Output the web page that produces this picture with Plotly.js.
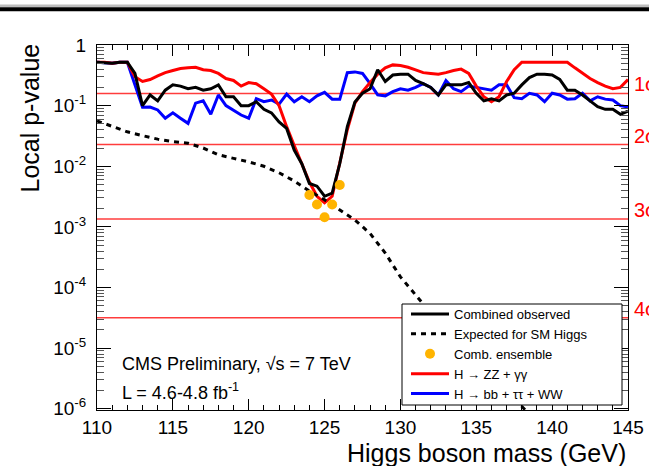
<!DOCTYPE html>
<html><head><meta charset="utf-8">
<script src="https://cdn.plot.ly/plotly-3.0.1.min.js"></script>
<style>html,body{margin:0;padding:0;background:#fff}#chart{width:649px;height:466px}</style>
</head><body><div id="chart"></div>
<script>
const mass = [110,110.5,111,111.5,112,112.5,113,113.5,114,114.5,115,115.5,116,116.5,117,117.5,118,118.5,119,119.5,120,120.5,121,121.5,122,122.5,123,123.5,124,124.5,125,125.5,126,126.5,127,127.5,128,128.5,129,129.5,130,130.5,131,131.5,132,132.5,133,133.5,134,134.5,135,135.5,136,136.5,137,137.5,138,138.5,139,139.5,140,140.5,141,141.5,142,142.5,143,143.5,144,144.5,145];
const observed = [0.52,0.51,0.50,0.52,0.52,0.34,0.10,0.15,0.12,0.18,0.22,0.21,0.19,0.20,0.18,0.19,0.22,0.14,0.14,0.10,0.10,0.116,0.087,0.076,0.054,0.042,0.0185,0.011,0.0052,0.0047,0.0032,0.0036,0.011,0.045,0.115,0.16,0.19,0.39,0.25,0.32,0.33,0.33,0.26,0.23,0.20,0.15,0.22,0.22,0.22,0.24,0.16,0.12,0.13,0.12,0.15,0.16,0.22,0.29,0.33,0.33,0.32,0.27,0.18,0.18,0.15,0.12,0.096,0.087,0.087,0.072,0.081];
const zzgg = [0.52,0.52,0.50,0.52,0.52,0.30,0.25,0.27,0.31,0.35,0.38,0.41,0.42,0.43,0.39,0.38,0.34,0.28,0.26,0.21,0.24,0.23,0.19,0.155,0.10,0.045,0.022,0.011,0.0055,0.0032,0.0025,0.0032,0.011,0.04,0.11,0.17,0.24,0.33,0.42,0.47,0.46,0.43,0.39,0.35,0.34,0.33,0.35,0.38,0.40,0.34,0.21,0.14,0.116,0.14,0.25,0.39,0.52,0.52,0.52,0.52,0.52,0.52,0.52,0.42,0.34,0.28,0.24,0.21,0.19,0.20,0.27];
const bbttww = [0.52,0.51,0.50,0.52,0.52,0.22,0.094,0.095,0.085,0.062,0.076,0.062,0.051,0.11,0.12,0.072,0.15,0.10,0.085,0.07,0.062,0.13,0.116,0.124,0.106,0.155,0.116,0.14,0.116,0.145,0.166,0.128,0.128,0.35,0.36,0.34,0.23,0.15,0.145,0.17,0.19,0.18,0.20,0.23,0.20,0.15,0.26,0.19,0.17,0.21,0.20,0.19,0.18,0.22,0.22,0.135,0.13,0.16,0.15,0.116,0.16,0.15,0.128,0.13,0.16,0.12,0.14,0.128,0.124,0.10,0.095];
const expMass = [110,111,112,113,114,115,116,117,118,119,120,121,122,123,124,125,126,127,128,129,130,131,132,133,134,135,136,137,138,139];
const expected = [0.056,0.045,0.037,0.032,0.028,0.0255,0.024,0.02,0.0155,0.0135,0.0118,0.0100,0.0078,0.0057,0.0039,0.0028,0.0019,0.0013,0.00078,0.00037,0.00015,0.000075,0.000038,0.000022,0.000012,0.0000065,0.0000035,0.000002,0.0000011,0.0000006];
const ensMass = [124.0,124.5,125.0,125.5,126.0];
const ensemble = [0.00335,0.00234,0.00144,0.00234,0.0049];
const sigmaLabels = ['1σ','2σ','3σ','4σ'];
const sigmaP = [0.1587,0.02275,0.00135,0.0000317];
const sigmaSpan = [110,145];
const yTickVals = [1e-6,1e-5,1e-4,1e-3,1e-2,1e-1,1];
const yTickText = ['10<sup>-6</sup>','10<sup>-5</sup>','10<sup>-4</sup>','10<sup>-3</sup>','10<sup>-2</sup>','10<sup>-1</sup>','1'];
const xTickVals = [110,115,120,125,130,135,140,145];
const seriesNames = ['Combined observed','Expected for SM Higgs','Comb. ensemble','H → ZZ + γγ','H → bb + ττ + WW'];

const FONT = 'Liberation Sans, Arial, Helvetica, sans-serif';
// plot area pixels: left 97, right 628, top 45, bottom 410
const L = 97, R = 628, T = 45, B = 410;
const px = x => (x - L) / (R - L);
const py = y => (B - y) / (B - T);

const sigmaTraces = sigmaP.map(p => ({
  x: sigmaSpan, y: [p, p], mode: 'lines', showlegend: false, hoverinfo: 'skip',
  line: {color: 'rgb(255,60,60)', width: 1.5}
}));

const traces = [
  {x: mass, y: observed, name: seriesNames[0], mode: 'lines', line: {color: '#000', width: 3}, legendrank: 1},
  {x: expMass, y: expected, name: seriesNames[1], mode: 'lines', line: {color: '#000', width: 3, dash: '5px,5px'}, legendrank: 2},
  {x: ensMass, y: ensemble, name: seriesNames[2], mode: 'markers', marker: {color: '#ffb400', size: 10}, legendrank: 3},
  {x: mass, y: zzgg, name: seriesNames[3], mode: 'lines', line: {color: '#ff0000', width: 3}, legendrank: 4},
  {x: mass, y: bbttww, name: seriesNames[4], mode: 'lines', line: {color: '#0000ff', width: 3}, legendrank: 5}
];
// drawing order: sigma lines, blue, red, black, expected, ensemble
const ordered = sigmaTraces.concat([traces[4], traces[3], traces[0], traces[1], traces[2]]);

const shapes = [];
// legend box (covers lines beneath)
shapes.push({type: 'rect', xref: 'paper', yref: 'paper', x0: px(402), x1: px(622), y0: py(405), y1: py(304),
  fillcolor: '#fff', line: {color: '#000', width: 1}, layer: 'above'});
// top slide border
shapes.push({type: 'rect', xref: 'paper', yref: 'paper', x0: px(0), x1: px(649), y0: py(7.3), y1: py(4.5),
  fillcolor: '#bdbdbd', line: {width: 0}, layer: 'above'});
shapes.push({type: 'rect', xref: 'paper', yref: 'paper', x0: px(0), x1: px(649), y0: py(11.2), y1: py(7.3),
  fillcolor: '#000', line: {width: 0}, layer: 'above'});

const annotations = sigmaLabels.map((t, i) => ({
  text: t, xref: 'paper', x: 1, xanchor: 'left', xshift: 4, yref: 'y', y: Math.log10(sigmaP[i]),
  yanchor: 'middle', yshift: 9, showarrow: false, font: {family: FONT, size: 20, color: '#ff0000'}
}));
annotations.push({text: 'Local p-value', textangle: -90, xref: 'paper', yref: 'paper', x: px(30), y: py(42),
  xanchor: 'center', yanchor: 'top', showarrow: false, font: {family: FONT, size: 25, color: '#000'}});
annotations.push({text: 'Higgs boson mass (GeV)', xref: 'paper', yref: 'paper', x: px(628), y: py(453),
  xanchor: 'right', yanchor: 'middle', showarrow: false, font: {family: FONT, size: 25, color: '#000'}});
annotations.push({text: 'CMS Preliminary, √s = 7 TeV', xref: 'paper', yref: 'paper', x: px(120), y: py(364),
  xanchor: 'left', yanchor: 'middle', showarrow: false, font: {family: FONT, size: 18, color: '#000'}});
annotations.push({text: 'L = 4.6-4.8 fb<sup>-1</sup>', xref: 'paper', yref: 'paper', x: px(120), y: py(391),
  xanchor: 'left', yanchor: 'middle', showarrow: false, font: {family: FONT, size: 18, color: '#000'}});

const layout = {
  width: 649, height: 466,
  margin: {l: L, r: 649 - R, t: T, b: 466 - B, pad: 0},
  paper_bgcolor: '#fff', plot_bgcolor: '#fff',
  font: {family: FONT, color: '#000'},
  showlegend: true,
  legend: {x: px(406), y: py(299), xanchor: 'left', yanchor: 'top', bgcolor: 'rgba(0,0,0,0)', borderwidth: 0,
    font: {family: FONT, size: 13, color: '#000'}, itemwidth: 38, traceorder: 'normal', tracegroupgap: 0},
  xaxis: {type: 'linear', range: [110, 145], tickmode: 'array', tickvals: xTickVals, ticktext: xTickVals.map(String),
    ticks: 'inside', ticklen: 11, tickwidth: 1, tickcolor: '#000', showline: true, linecolor: '#000', linewidth: 1,
    mirror: 'allticks', showgrid: false, zeroline: false, tickfont: {family: FONT, size: 19, color: '#000'},
    minor: {dtick: 1, ticks: 'inside', ticklen: 5, tickcolor: '#000', tickwidth: 1, showgrid: false}},
  yaxis: {type: 'log', range: [-6.02, 0], tickmode: 'array', tickvals: yTickVals, ticktext: yTickText,
    ticks: 'inside', ticklen: 14, tickwidth: 1, tickcolor: '#000', showline: true, linecolor: '#000', linewidth: 1,
    mirror: 'allticks', showgrid: false, zeroline: false, tickfont: {family: FONT, size: 19, color: '#000'},
    ticklabelstandoff: 6,
    minor: {dtick: 'D1', ticks: 'inside', ticklen: 7, tickcolor: '#555', tickwidth: 1, showgrid: false}},
  shapes: shapes,
  annotations: annotations
};

Plotly.newPlot('chart', ordered, layout, {staticPlot: true, displayModeBar: false});
</script></body></html>
